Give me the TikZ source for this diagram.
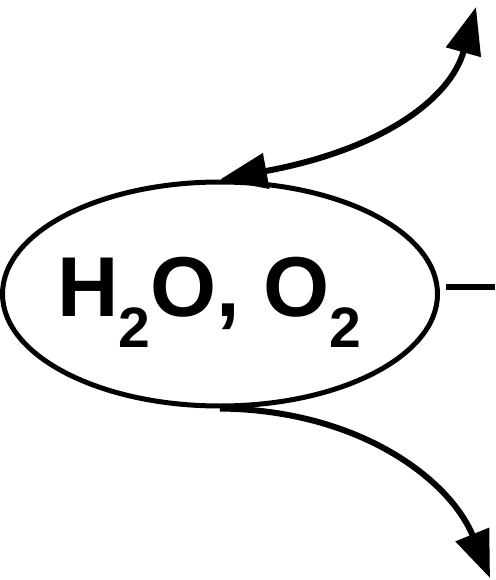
\documentclass[tikz,border=0pt]{standalone}
\usepackage{fontspec}
\setmainfont{Liberation Sans}
\usetikzlibrary{arrows.meta,shapes.geometric}
\newcommand{\chemsub}[1]{\raisebox{-31pt}{\fontsize{57}{57}\selectfont #1}}

\begin{document}
\begin{tikzpicture}[
    x=1pt, y=-1pt,
    >={Triangle[length=47pt,width=35pt]},
    bubble/.style={
      draw,
      ellipse,
      line width=5pt,
      inner sep=0pt,
      minimum width=435pt,
      minimum height=224pt
    },
    formula/.style={font=\fontsize{85}{85}\selectfont\bfseries, inner sep=0pt},
    flow/.style={line width=6pt},
    stub/.style={line width=6pt}
  ]
    \useasboundingbox (0,0) rectangle (495,580);

    \node[bubble] (water) at (220,294) {};
    \node[formula] (chem) at (209.5,302) {H\chemsub{2}O, O\chemsub{2}};

    \coordinate (upEnd) at (476,7);
    \coordinate (downEnd) at (490,578);
    \coordinate (stubL) at (446,287);
    \coordinate (stubR) at (495,287);

    \draw[flow, <->] (water.north) .. controls (380,150) and (450,100) .. (upEnd);
    \draw[flow, ->] (water.south) .. controls (360,410) and (450,480) .. (downEnd);
    \draw[stub] (stubL) -- (stubR);
\end{tikzpicture}
\end{document}
